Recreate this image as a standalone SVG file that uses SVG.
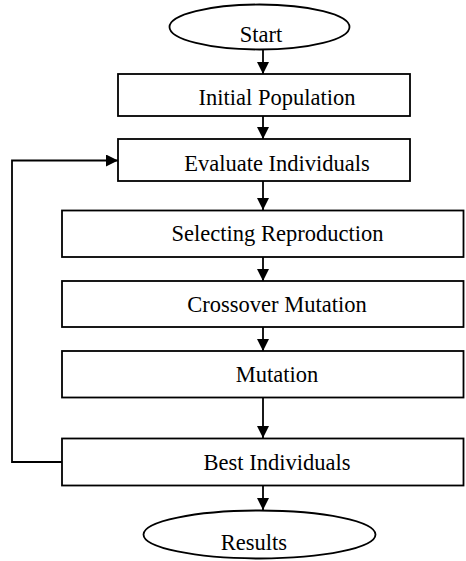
<svg xmlns="http://www.w3.org/2000/svg" width="466" height="561" viewBox="0 0 466 561">
  <style>
    .shape { fill: #ffffff; stroke: #000000; stroke-width: 1.8; }
    .label { font-family: 'Liberation Serif', 'DejaVu Serif', serif; font-size: 22.5px; fill: #000000; text-anchor: middle; }
    .edge { fill: none; stroke: #000000; stroke-width: 1.8; }
  </style>
  <defs>
    <marker id="arrow" viewBox="0 0 10 10" refX="10" refY="5" markerWidth="12" markerHeight="12" markerUnits="userSpaceOnUse" orient="auto">
      <path d="M0,0 L10,5 L0,10 Z" fill="#000000"/>
    </marker>
  </defs>
  <rect width="466" height="561" fill="#ffffff"/>

  <g id="connectors">
    <line class="edge" x1="263" y1="50" x2="263" y2="74" marker-end="url(#arrow)"/>
    <line class="edge" x1="263" y1="116" x2="263" y2="139" marker-end="url(#arrow)"/>
    <line class="edge" x1="263" y1="181" x2="263" y2="210" marker-end="url(#arrow)"/>
    <line class="edge" x1="263" y1="257" x2="263" y2="281" marker-end="url(#arrow)"/>
    <line class="edge" x1="263" y1="327" x2="263" y2="351" marker-end="url(#arrow)"/>
    <line class="edge" x1="263" y1="397" x2="263" y2="438" marker-end="url(#arrow)"/>
    <line class="edge" x1="263" y1="486" x2="263" y2="510" marker-end="url(#arrow)"/>
    <polyline class="edge" points="62,462 12,462 12,160.5 118,160.5" marker-end="url(#arrow)"/>
  </g>

  <g id="start">
    <ellipse class="shape" cx="259.5" cy="27" rx="90" ry="22.5"/>
    <text class="label" x="261" y="42">Start</text>
  </g>
  <g id="initial-population">
    <rect class="shape" x="118" y="74" width="292" height="42"/>
    <text class="label" x="277" y="105">Initial Population</text>
  </g>
  <g id="evaluate-individuals">
    <rect class="shape" x="118" y="139" width="292" height="42"/>
    <text class="label" x="277" y="171">Evaluate Individuals</text>
  </g>
  <g id="selecting-reproduction">
    <rect class="shape" x="62" y="210.5" width="401.5" height="46.5"/>
    <text class="label" x="277.5" y="241">Selecting Reproduction</text>
  </g>
  <g id="crossover-mutation">
    <rect class="shape" x="62" y="281" width="401.5" height="46"/>
    <text class="label" x="277" y="311.5">Crossover Mutation</text>
  </g>
  <g id="mutation">
    <rect class="shape" x="62" y="351" width="401.5" height="46.5"/>
    <text class="label" x="277" y="382">Mutation</text>
  </g>
  <g id="best-individuals">
    <rect class="shape" x="62" y="438.5" width="401.5" height="47"/>
    <text class="label" x="277" y="470">Best Individuals</text>
  </g>
  <g id="results">
    <ellipse class="shape" cx="259.5" cy="534.5" rx="116" ry="24"/>
    <text class="label" x="254" y="550">Results</text>
  </g>
</svg>
